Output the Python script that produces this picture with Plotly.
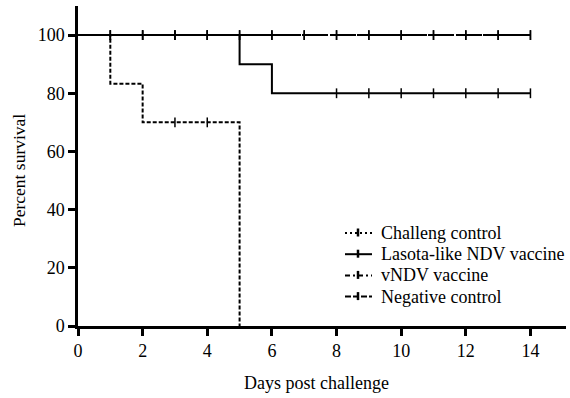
import plotly.graph_objects as go

# ---- data ----
series_names = ["Challeng control", "Lasota-like NDV vaccine", "vNDV vaccine", "Negative control"]

challeng_days = [0, 1, 2, 5]
challeng_surv = [100, 83.3, 70, 0]
challeng_cens_days = [3, 4]
challeng_cens_surv = [70, 70]

lasota_days = [0, 5, 6, 14]
lasota_surv = [100, 90, 80, 80]
lasota_cens_days = [1, 2, 3, 4, 8, 9, 10, 11, 12, 13, 14]
lasota_cens_surv = [100, 100, 100, 100, 80, 80, 80, 80, 80, 80, 80]

vndv_days = [0, 14]
vndv_surv = [100, 100]
vndv_cens_days = [1, 2, 3, 4, 5, 6, 7, 8, 9, 10, 11, 12, 13, 14]
vndv_cens_surv = [100] * 14

neg_days = [0, 14]
neg_surv = [100, 100]
neg_cens_days = [1, 2, 3, 4, 5, 6, 7, 8, 9, 10, 11, 12, 13, 14]
neg_cens_surv = [100] * 14

x_ticks = [0, 2, 4, 6, 8, 10, 12, 14]
y_ticks = [0, 20, 40, 60, 80, 100]

FONT = "Liberation Serif"
W, H = 570, 398
ML, MR, MT, MB = 78, 4, 6, 72
PW, PH = W - ML - MR, H - MT - MB


def px_x(px):
    return (px - ML) / PW


def px_y(py):
    return (H - MB - py) / PH


dashes = ["4px,2px", "solid", "7px,2px", "12px,2px"]
legend_dashes = ["2px,3px", "solid", "5px,3px,2px,3px", "6px,2px"]
data = [
    (challeng_days, challeng_surv, challeng_cens_days, challeng_cens_surv),
    (lasota_days, lasota_surv, lasota_cens_days, lasota_cens_surv),
    (vndv_days, vndv_surv, vndv_cens_days, vndv_cens_surv),
    (neg_days, neg_surv, neg_cens_days, neg_cens_surv),
]

fig = go.Figure()
for i in [3, 2, 1, 0]:
    d, s, cd, cs = data[i]
    fig.add_trace(go.Scatter(x=d, y=s, mode="lines", line_shape="hv", name=series_names[i],
                             line=dict(color="black", width=2, dash=dashes[i]),
                             showlegend=False, hoverinfo="skip", cliponaxis=False))
    fig.add_trace(go.Scatter(x=cd, y=cs, mode="markers",
                             marker=dict(symbol="line-ns", size=7, color="black",
                                         line=dict(color="black", width=1.5)),
                             showlegend=False, hoverinfo="skip", cliponaxis=False))

# manual legend (layout only)
shapes = []
annotations = []
for i, name in enumerate(series_names):
    ry = 233 + 21.2 * i
    shapes.append(dict(type="line", xref="paper", yref="paper",
                       x0=px_x(345), x1=px_x(372), y0=px_y(ry), y1=px_y(ry),
                       line=dict(color="black", width=2, dash=legend_dashes[i])))
    shapes.append(dict(type="line", xref="paper", yref="paper",
                       x0=px_x(358), x1=px_x(358), y0=px_y(ry - 4.5), y1=px_y(ry + 3.5),
                       line=dict(color="black", width=2.5)))
    annotations.append(dict(text=name, xref="paper", yref="paper",
                            x=px_x(379), y=px_y(ry), xanchor="left", yanchor="middle",
                            showarrow=False, font=dict(family=FONT, size=18, color="black")))

annotations.append(dict(text="Percent survival", xref="paper", yref="paper",
                        x=px_x(18.5), y=px_y(170.5), xanchor="center", yanchor="middle",
                        textangle=-90, showarrow=False,
                        font=dict(family=FONT, size=17.5, color="black")))
annotations.append(dict(text="Days post challenge", xref="paper", yref="paper",
                        x=px_x(316), y=px_y(383), xanchor="center", yanchor="middle",
                        showarrow=False, font=dict(family=FONT, size=18, color="black")))

fig.update_layout(
    width=W, height=H,
    margin=dict(l=ML, r=MR, t=MT, b=MB),
    paper_bgcolor="white", plot_bgcolor="white",
    font=dict(family=FONT, size=18, color="black"),
    showlegend=False,
    shapes=shapes,
    annotations=annotations,
)
fig.update_xaxes(range=[0, 15.1], tickvals=x_ticks, ticktext=[str(v) for v in x_ticks],
                 showline=True, linecolor="black", linewidth=2.5,
                 ticks="outside", ticklen=7, tickwidth=2.5, tickcolor="black",
                 showgrid=False, zeroline=False, automargin=False,
                 tickfont=dict(size=18, family=FONT))
fig.update_yaxes(range=[0, 110], tickvals=y_ticks, ticktext=[str(v) for v in y_ticks],
                 showline=True, linecolor="black", linewidth=2.5,
                 ticks="outside", ticklen=7, tickwidth=2.5, tickcolor="black",
                 showgrid=False, zeroline=False, automargin=False,
                 tickfont=dict(size=18, family=FONT))

fig.write_html("out.html", config={"displayModeBar": False},
               post_script="document.body.style.margin='0';document.body.style.padding='0';")
